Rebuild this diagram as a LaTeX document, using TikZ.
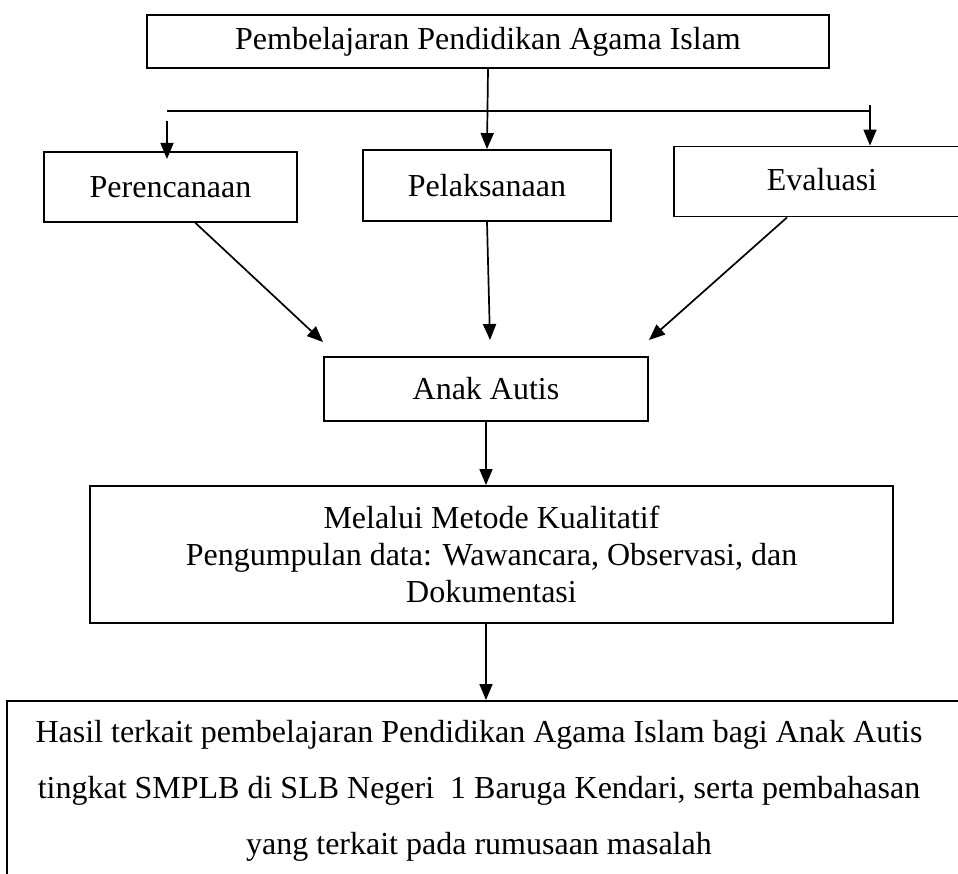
\documentclass[tikz,border=0pt]{standalone}
\usepackage{fontspec}
\setmainfont{Liberation Serif}
\usetikzlibrary{arrows.meta}
\begin{document}
\begin{tikzpicture}[x=1pt,y=-1pt,
  box/.style={draw, line width=1.9pt, rectangle, inner sep=0pt, font=\fontsize{32}{37}\selectfont, align=center},
  arr/.style={line width=1.7pt, -{Triangle[length=16pt,width=13pt]}},
  ln/.style={line width=1.7pt}]
\useasboundingbox (0,0) rectangle (958,874);
\clip (0,0) rectangle (958,874);
% boxes
\node[box, minimum width=682pt, minimum height=53pt] (top) at (488,41.5) {Pembelajaran Pendidikan Agama Islam};
\node[box, minimum width=253pt, minimum height=70pt] (per) at (170.5,187) {Perencanaan};
\node[box, minimum width=248pt, minimum height=71pt] (pel) at (487,185.5) {Pelaksanaan};
\node[box, minimum width=296pt, minimum height=70pt] (eva) at (822,181.5) {\raisebox{4pt}{Evaluasi}};
\node[box, minimum width=324pt, minimum height=64pt] (anak) at (486,389) {Anak Autis};
\node[box, minimum width=803pt, minimum height=137pt] (metode) at (491.5,554.5) {Melalui Metode Kualitatif\\Pengumpulan data: Wawancara, Observasi, dan\\Dokumentasi};
\node[draw, line width=1.9pt, inner sep=0pt, minimum width=980pt, minimum height=200pt] (hasil) at (497,801) {};
\node[font=\fontsize{32}{56}\selectfont, align=center, inner sep=0pt] (hasiltext) at (479,791) {Hasil terkait pembelajaran Pendidikan Agama Islam bagi Anak Autis\\tingkat SMPLB di SLB Negeri\ \ 1 Baruga Kendari, serta pembahasan\\yang terkait pada rumusaan masalah};
% branching
\coordinate (hl) at (167,111);
\coordinate (hr) at (870,111);
\coordinate (ls) at (167,121);
\coordinate (le) at (167,159);
\coordinate (rs) at (870,105);
\draw[ln] (hl) -- (hr);
\draw[arr] (top.south) -- (pel.north);
\draw[arr] (ls) -- (le);
\draw[arr] (rs) -- (rs |- eva.north);
% to Anak Autis
\draw[arr] ([xshift=25pt]per.south) -- ([yshift=14pt]anak.north west);
\draw[arr] (pel.south) -- ([xshift=4pt,yshift=16pt]anak.north);
\draw[arr] ([xshift=-35pt]eva.south) -- ([yshift=16pt]anak.north east);
% down
\draw[arr] (anak.south) -- (anak.south |- metode.north);
\draw[arr] (metode.south -| anak.south) -- (anak.south |- hasil.north);
\end{tikzpicture}
\end{document}
